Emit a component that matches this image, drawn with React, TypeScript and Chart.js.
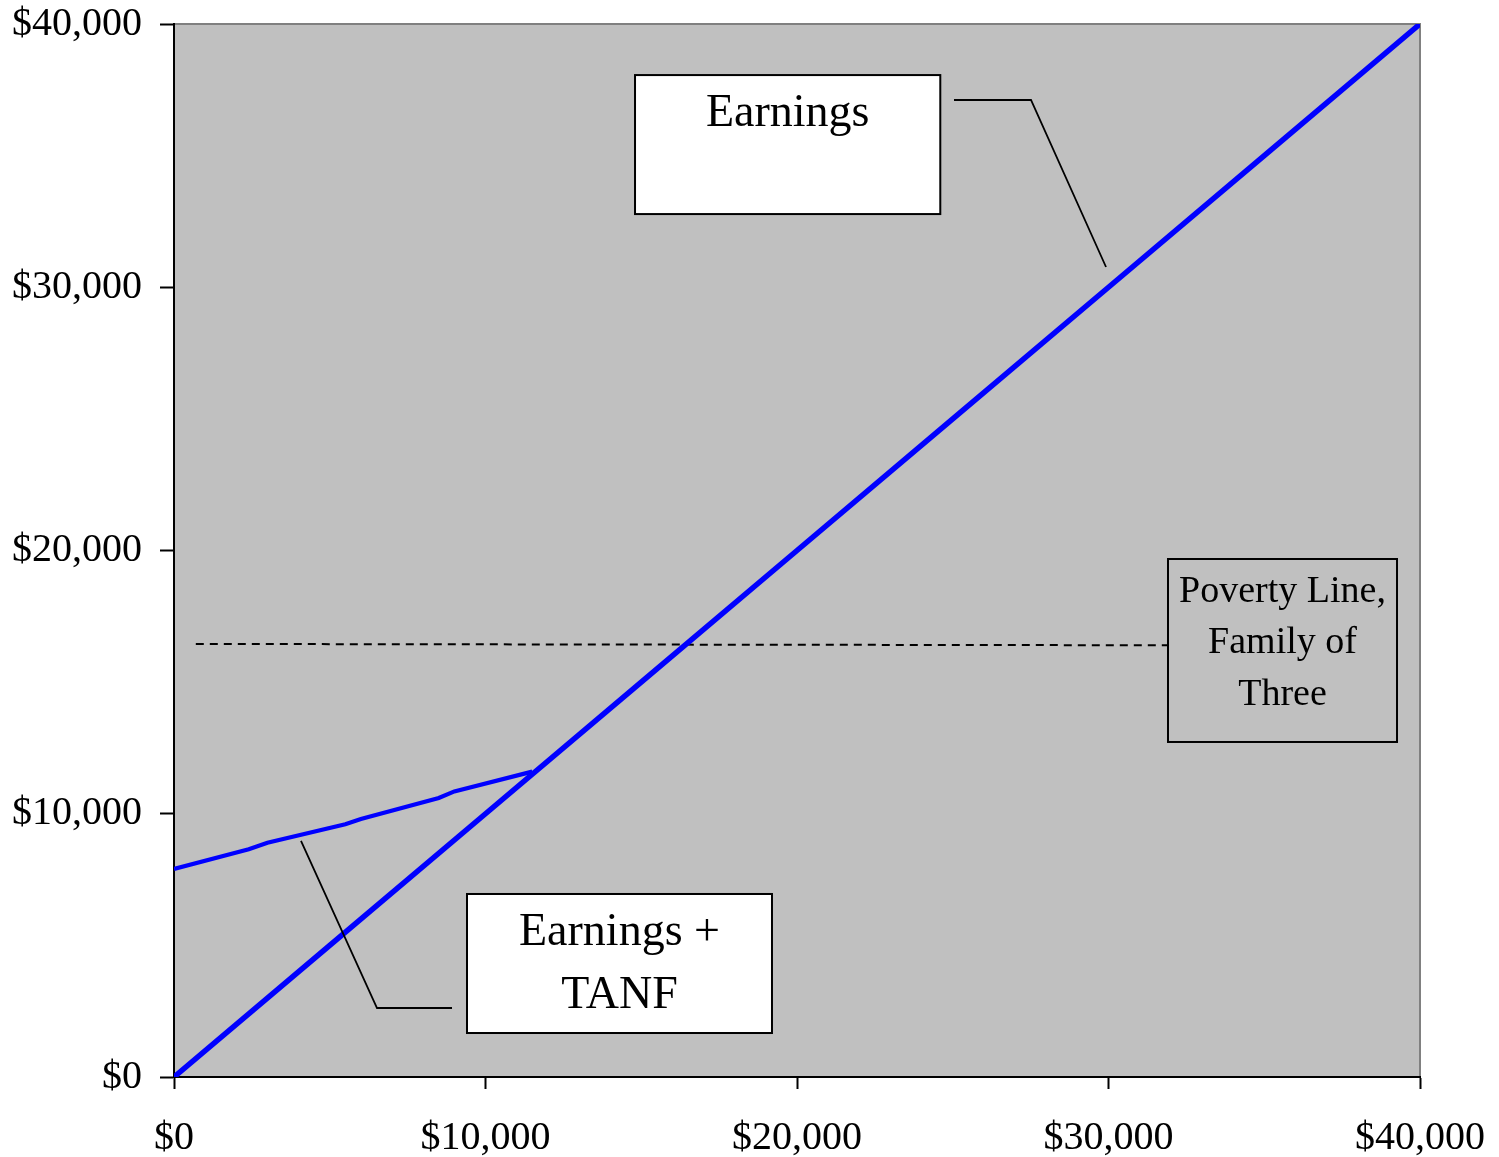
import React, { useEffect, useRef } from "react";
import { Chart, registerables } from "chart.js";

Chart.register(...registerables);

// ---- Data ----
const earningsX = [0, 5000, 10000, 15000, 20000, 25000, 30000, 35000, 40000];
const earningsY = [0, 5000, 10000, 15000, 20000, 25000, 30000, 35000, 40000];

const tanfX = [0, 2400, 3000, 5500, 6000, 8500, 9000, 11500];
const tanfY = [7900, 8650, 8900, 9600, 9800, 10600, 10850, 11600];

const povertyX = [700, 31910];
const povertyY = [16450, 16400];

const axisTicks = [0, 10000, 20000, 30000, 40000];

// Annotations (data coordinates)
const earningsLabel = ["Earnings"];
const tanfLabel = ["Earnings +", "TANF"];
const povertyLabel = ["Poverty Line,", "Family of", "Three"];

const FONT = '"Liberation Serif", "Times New Roman", Times, serif';

type Box = {
  x1: number; x2: number; y1: number; y2: number;
  fill: string | null;
  lines: string[];
  baselines: number[];
  fontSize: number;
  leader: { x: number; y: number }[];
};

const annotations: Box[] = [
  {
    x1: 14800, x2: 24600, y1: 38060, y2: 32780,
    fill: "#ffffff",
    lines: earningsLabel,
    baselines: [36125],
    fontSize: 46,
    leader: [
      { x: 25040, y: 37113 },
      { x: 27512, y: 37113 },
      { x: 29920, y: 30769 },
    ],
  },
  {
    x1: 9406, x2: 19197, y1: 6952, y2: 1671,
    fill: "#ffffff",
    lines: tanfLabel,
    baselines: [5014, 2621],
    fontSize: 46,
    leader: [
      { x: 8925, y: 2621 },
      { x: 6517, y: 2621 },
      { x: 4077, y: 8965 },
    ],
  },
  {
    x1: 31910, x2: 39262, y1: 19677, y2: 12726,
    fill: null,
    lines: povertyLabel,
    baselines: [18044, 16106, 14131],
    fontSize: 38,
    leader: [],
  },
];

const fmt = (v: number) => "$" + Number(v).toLocaleString("en-US");

const zip = (xs: number[], ys: number[]) => xs.map((x, i) => ({ x, y: ys[i] }));

const bgPlugin = {
  id: "bgPlugin",
  beforeDraw(chart: any) {
    const { ctx, chartArea: a } = chart;
    ctx.save();
    ctx.fillStyle = "#c0c0c0";
    ctx.fillRect(a.left, a.top, a.right - a.left, a.bottom - a.top);
    ctx.strokeStyle = "#808080";
    ctx.lineWidth = 2;
    ctx.beginPath();
    ctx.moveTo(a.left, a.top);
    ctx.lineTo(a.right, a.top);
    ctx.lineTo(a.right, a.bottom);
    ctx.stroke();
    ctx.restore();
  },
};

const annoPlugin = {
  id: "annoPlugin",
  afterDatasetsDraw(chart: any) {
    const { ctx } = chart;
    const xs = chart.scales.x;
    const ys = chart.scales.y;
    ctx.save();
    for (const b of annotations) {
      const left = xs.getPixelForValue(b.x1);
      const right = xs.getPixelForValue(b.x2);
      const top = ys.getPixelForValue(b.y1);
      const bottom = ys.getPixelForValue(b.y2);
      if (b.fill) {
        ctx.fillStyle = b.fill;
        ctx.fillRect(left, top, right - left, bottom - top);
      }
      ctx.strokeStyle = "#000";
      ctx.lineWidth = 2;
      ctx.strokeRect(left, top, right - left, bottom - top);
      ctx.fillStyle = "#000";
      ctx.font = `${b.fontSize}px ${FONT}`;
      ctx.textAlign = "center";
      ctx.textBaseline = "alphabetic";
      const cx = (left + right) / 2;
      b.lines.forEach((t, i) => {
        ctx.fillText(t, cx, ys.getPixelForValue(b.baselines[i]));
      });
      if (b.leader.length) {
        ctx.lineWidth = 1.8;
        ctx.beginPath();
        b.leader.forEach((p, i) => {
          const px = xs.getPixelForValue(p.x);
          const py = ys.getPixelForValue(p.y);
          if (i === 0) ctx.moveTo(px, py);
          else ctx.lineTo(px, py);
        });
        ctx.stroke();
      }
    }
    ctx.restore();
  },
};

export default function App() {
  const ref = useRef<HTMLCanvasElement | null>(null);

  useEffect(() => {
    if (!ref.current) return;
    const tickFont = { family: FONT, size: 40 };
    const chart = new Chart(ref.current, {
      type: "line",
      data: {
        datasets: [
          {
            label: "Earnings",
            data: zip(earningsX, earningsY),
            borderColor: "#0000ff",
            borderWidth: 5.5,
            pointRadius: 0,
            tension: 0,
          },
          {
            label: "Earnings + TANF",
            data: zip(tanfX, tanfY),
            borderColor: "#0000ff",
            borderWidth: 4.2,
            pointRadius: 0,
            tension: 0,
          },
          {
            label: "Poverty Line, Family of Three",
            data: zip(povertyX, povertyY),
            borderColor: "#000000",
            borderWidth: 2,
            borderDash: [8, 6],
            pointRadius: 0,
            tension: 0,
          },
        ],
      },
      options: {
        animation: false,
        responsive: false,
        maintainAspectRatio: false,
        parsing: false as any,
        layout: { padding: { top: 24, right: 79, left: 0, bottom: 0 } },
        plugins: {
          legend: { display: false },
          tooltip: { enabled: false },
          title: { display: false },
        },
        scales: {
          x: {
            type: "linear",
            min: 0,
            max: 40000,
            afterBuildTicks: (s: any) => {
              s.ticks = axisTicks.map((v) => ({ value: v }));
            },
            ticks: {
              callback: (v: any) => fmt(v),
              font: tickFont,
              color: "#000",
              padding: 25,
              maxRotation: 0,
              autoSkip: false,
            },
            grid: {
              drawOnChartArea: false,
              tickLength: 12,
              tickColor: "#000",
              tickWidth: 2,
            },
            border: { color: "#000", width: 2 },
            afterFit: (s: any) => {
              s.height = 80;
              s.paddingLeft = 0;
              s.paddingRight = 0;
            },
          },
          y: {
            type: "linear",
            min: 0,
            max: 40000,
            afterBuildTicks: (s: any) => {
              s.ticks = axisTicks.map((v) => ({ value: v }));
            },
            ticks: {
              callback: (v: any) => fmt(v),
              font: tickFont,
              color: "#000",
              padding: 18,
              autoSkip: false,
            },
            grid: {
              drawOnChartArea: false,
              tickLength: 14,
              tickColor: "#000",
              tickWidth: 2,
            },
            border: { color: "#000", width: 2 },
            afterFit: (s: any) => {
              s.width = 174;
              s.paddingTop = 0;
              s.paddingBottom = 0;
            },
          },
        },
      },
      plugins: [bgPlugin, annoPlugin],
    } as any);
    return () => chart.destroy();
  }, []);

  return (
    <div style={{ position: "absolute", left: 0, top: 0, width: 1499, height: 1157, background: "#fff" }}>
      <canvas ref={ref} width={1499} height={1157} style={{ display: "block", width: 1499, height: 1157 }} />
    </div>
  );
}
